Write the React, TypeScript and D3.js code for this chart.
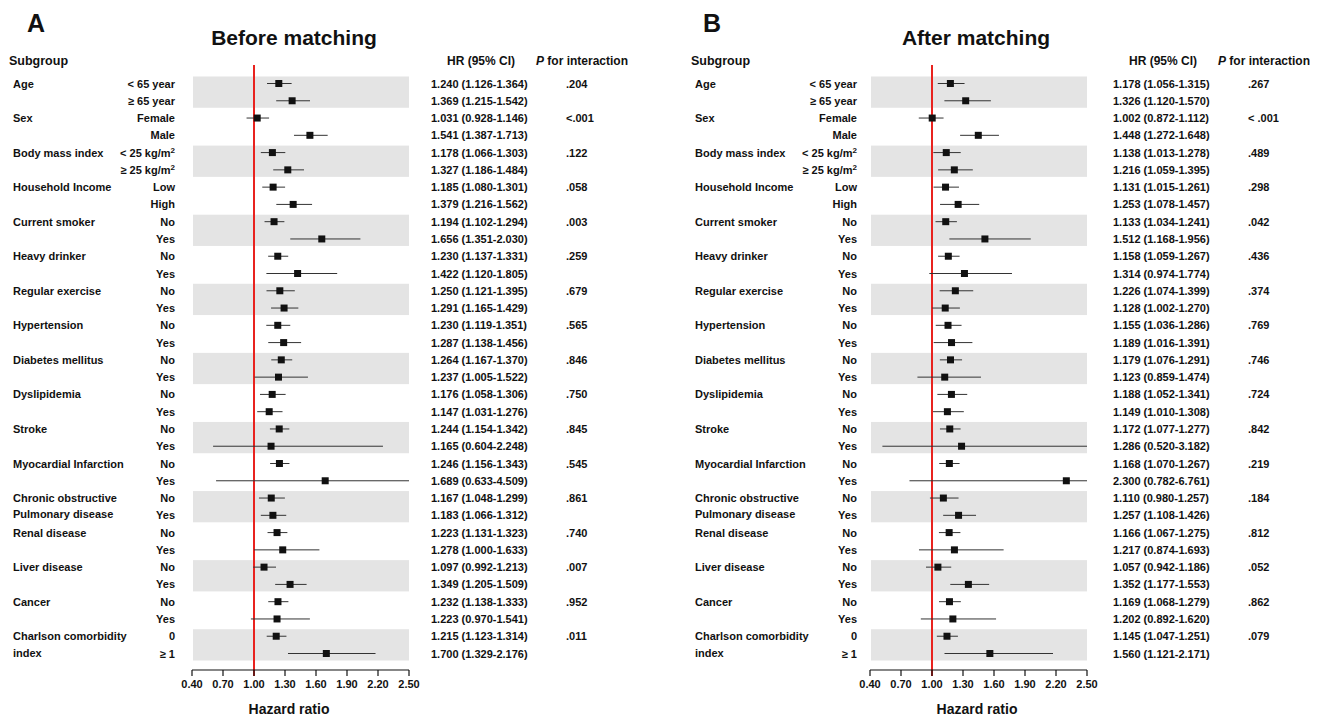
import React from 'react';
import * as d3 from 'd3';

// subgroups, two levels each
const groups = [
  'Age', 'Sex', 'Body mass index', 'Household Income', 'Current smoker',
  'Heavy drinker', 'Regular exercise', 'Hypertension', 'Diabetes mellitus',
  'Dyslipidemia', 'Stroke', 'Myocardial Infarction',
  'Chronic obstructive|Pulmonary disease', 'Renal disease', 'Liver disease',
  'Cancer', 'Charlson comorbidity|index',
];
const levels = [
  ['< 65 year', '≥ 65 year'], ['Female', 'Male'], ['< 25 kg/m^2', '≥ 25 kg/m^2'],
  ['Low', 'High'], ['No', 'Yes'], ['No', 'Yes'], ['No', 'Yes'], ['No', 'Yes'],
  ['No', 'Yes'], ['No', 'Yes'], ['No', 'Yes'], ['No', 'Yes'], ['No', 'Yes'],
  ['No', 'Yes'], ['No', 'Yes'], ['No', 'Yes'], ['0', '≥ 1'],
];

// before matching
const hrBefore = [1.240, 1.369, 1.031, 1.541, 1.178, 1.327, 1.185, 1.379, 1.194, 1.656, 1.230, 1.422, 1.250, 1.291, 1.230, 1.287, 1.264, 1.237, 1.176, 1.147, 1.244, 1.165, 1.246, 1.689, 1.167, 1.183, 1.223, 1.278, 1.097, 1.349, 1.232, 1.223, 1.215, 1.700];
const loBefore = [1.126, 1.215, 0.928, 1.387, 1.066, 1.186, 1.080, 1.216, 1.102, 1.351, 1.137, 1.120, 1.121, 1.165, 1.119, 1.138, 1.167, 1.005, 1.058, 1.031, 1.154, 0.604, 1.156, 0.633, 1.048, 1.066, 1.131, 1.000, 0.992, 1.205, 1.138, 0.970, 1.123, 1.329];
const hiBefore = [1.364, 1.542, 1.146, 1.713, 1.303, 1.484, 1.301, 1.562, 1.294, 2.030, 1.331, 1.805, 1.395, 1.429, 1.351, 1.456, 1.370, 1.522, 1.306, 1.276, 1.342, 2.248, 1.343, 4.509, 1.299, 1.312, 1.323, 1.633, 1.213, 1.509, 1.333, 1.541, 1.314, 2.176];
const pBefore = ['.204', '<.001', '.122', '.058', '.003', '.259', '.679', '.565', '.846', '.750', '.845', '.545', '.861', '.740', '.007', '.952', '.011'];

// after matching
const hrAfter = [1.178, 1.326, 1.002, 1.448, 1.138, 1.216, 1.131, 1.253, 1.133, 1.512, 1.158, 1.314, 1.226, 1.128, 1.155, 1.189, 1.179, 1.123, 1.188, 1.149, 1.172, 1.286, 1.168, 2.300, 1.110, 1.257, 1.166, 1.217, 1.057, 1.352, 1.169, 1.202, 1.145, 1.560];
const loAfter = [1.056, 1.120, 0.872, 1.272, 1.013, 1.059, 1.015, 1.078, 1.034, 1.168, 1.059, 0.974, 1.074, 1.002, 1.036, 1.016, 1.076, 0.859, 1.052, 1.010, 1.077, 0.520, 1.070, 0.782, 0.980, 1.108, 1.067, 0.874, 0.942, 1.177, 1.068, 0.892, 1.047, 1.121];
const hiAfter = [1.315, 1.570, 1.112, 1.648, 1.278, 1.395, 1.261, 1.457, 1.241, 1.956, 1.267, 1.774, 1.399, 1.270, 1.286, 1.391, 1.291, 1.474, 1.341, 1.308, 1.277, 3.182, 1.267, 6.761, 1.257, 1.426, 1.275, 1.693, 1.186, 1.553, 1.279, 1.620, 1.251, 2.171];
const pAfter = ['.267', '< .001', '.489', '.298', '.042', '.436', '.374', '.769', '.746', '.724', '.842', '.219', '.184', '.812', '.052', '.862', '.079'];

const xTicks = [0.4, 0.7, 1.0, 1.3, 1.6, 1.9, 2.2, 2.5];

const FONT = '"Liberation Sans", Arial, Helvetica, sans-serif';
const fmt = d3.format('.3f');
const tickFmt = d3.format('.2f');

const y = d3.scaleLinear().domain([0, 33]).range([83.5, 653.5]);
const AXIS_Y = 670;

function LevelLabel({ text, x, yy }: { text: string; x: number; yy: number }) {
  if (text.includes('^2')) {
    const base = text.replace('^2', '');
    return (
      <text x={x} y={yy} textAnchor="end">
        {base}
        <tspan fontSize={8} dy={-4}>2</tspan>
      </text>
    );
  }
  return <text x={x} y={yy} textAnchor="end">{text}</text>;
}

function Panel({ letter, letterX, title, tx, px, titleX, axisLabelX, hr, lo, hi, p }: any) {
  const x = d3.scaleLinear().domain([0.4, 2.5]).range([px + 192, px + 409]);
  const clip = (v: number) => Math.max(0.4, Math.min(2.5, v));
  return (
    <g fontFamily={FONT} fontWeight="bold" fill="#111">
      <text x={letterX} y={32} fontSize={25}>{letter}</text>
      <text x={titleX} y={45} fontSize={21} textAnchor="middle">{title}</text>
      <text x={tx + 9} y={65} fontSize={12.5}>Subgroup</text>
      <text x={tx + 447} y={65} fontSize={12}>HR (95% CI)</text>
      <text x={tx + 536} y={65} fontSize={12}>
        <tspan fontStyle="italic">P</tspan> for interaction
      </text>

      {/* shaded bands for every other subgroup */}
      {groups.map((g, gi) => gi % 2 === 0 ? (
        <rect key={'b' + gi} x={px + 193} width={216}
          y={y(gi * 2) - 7} height={y(gi * 2 + 1) - y(gi * 2) + 14}
          fill="#e4e4e4" />
      ) : null)}

      {groups.map((g, gi) => {
        const lines = g.split('|');
        return (
          <g key={'g' + gi} fontSize={11}>
            <text x={tx + 13} y={y(gi * 2) + 4}>{lines[0]}</text>
            {lines[1] && <text x={tx + 13} y={y(gi * 2 + 1) + 3}>{lines[1]}</text>}
            <LevelLabel text={levels[gi][0]} x={tx + 175} yy={y(gi * 2) + 4} />
            <LevelLabel text={levels[gi][1]} x={tx + 175} yy={y(gi * 2 + 1) + 4} />
            <text x={tx + 566} y={y(gi * 2) + 4}>{p[gi]}</text>
          </g>
        );
      })}

      {hr.map((v: number, i: number) => (
        <text key={'t' + i} x={tx + 431} y={y(i) + 4} fontSize={11}>
          {`${fmt(v)} (${fmt(lo[i])}-${fmt(hi[i])})`}
        </text>
      ))}

      {/* reference line */}
      <line x1={x(1)} x2={x(1)} y1={65} y2={AXIS_Y + 6} stroke="#e8231f" strokeWidth={2} />

      {hr.map((v: number, i: number) => (
        <g key={'m' + i}>
          <line x1={x(clip(lo[i]))} x2={x(clip(hi[i]))} y1={y(i)} y2={y(i)}
            stroke="#333" strokeWidth={1} />
          <rect x={x(v) - 3.5} y={y(i) - 3.5} width={7} height={7} fill="#111" />
        </g>
      ))}

      {/* x axis */}
      <line x1={x(0.4)} x2={x(2.5)} y1={AXIS_Y} y2={AXIS_Y} stroke="#111" strokeWidth={1.2} />
      {xTicks.map(t => (
        <g key={'k' + t}>
          <line x1={x(t)} x2={x(t)} y1={AXIS_Y} y2={AXIS_Y + 6} stroke="#111" strokeWidth={1.2} />
          <text x={x(t)} y={AXIS_Y + 18} fontSize={11} textAnchor="middle">{tickFmt(t)}</text>
        </g>
      ))}
      <text x={axisLabelX} y={714} fontSize={14} textAnchor="middle">Hazard ratio</text>
    </g>
  );
}

export default function App() {
  return (
    <svg width={1332} height={719} style={{ position: 'absolute', left: 0, top: 0, background: '#fff' }}>
      <rect width={1332} height={719} fill="#fff" />
      <Panel letter="A" letterX={27} title="Before matching" tx={0} px={0} titleX={294} axisLabelX={289}
        hr={hrBefore} lo={loBefore} hi={hiBefore} p={pBefore} />
      <Panel letter="B" letterX={703} title="After matching" tx={682} px={678} titleX={976} axisLabelX={977}
        hr={hrAfter} lo={loAfter} hi={hiAfter} p={pAfter} />
    </svg>
  );
}
